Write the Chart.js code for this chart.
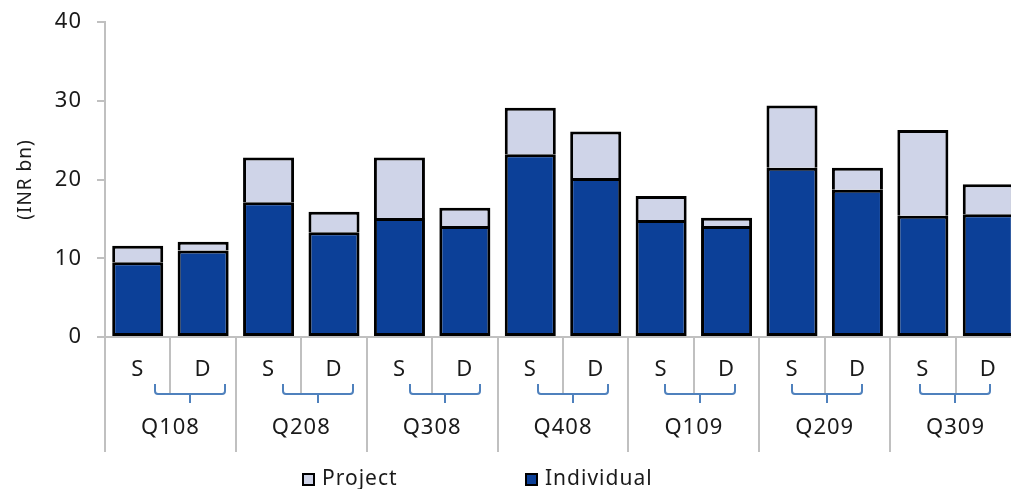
<!DOCTYPE html>
<html>
<head>
<meta charset="utf-8">
<script src="https://cdn.jsdelivr.net/npm/chart.js@4.4.0/dist/chart.umd.min.js"></script>
<style>
html, body { margin: 0; padding: 0; background: #fff; overflow: hidden; }
#wrap { width: 1021px; height: 489px; }
</style>
</head>
<body>
<div id="wrap"><canvas id="myChart" width="1021" height="489"></canvas></div>
<script>
var subLabels = ['S', 'D', 'S', 'D', 'S', 'D', 'S', 'D', 'S', 'D', 'S', 'D', 'S', 'D'];
var quarters = ['Q108', 'Q208', 'Q308', 'Q408', 'Q109', 'Q209', 'Q309'];
var individual = [9.5, 11.0, 17.1, 13.3, 15.1, 14.1, 23.2, 20.2, 14.85, 14.1, 21.5, 18.7, 15.4, 15.6];
var project = [2.1, 1.1, 5.7, 2.6, 7.7, 2.3, 5.9, 5.9, 3.05, 1.05, 7.9, 2.8, 10.9, 3.8];
var yTicks = [0, 10, 20, 30, 40];

Chart.defaults.font.family = "'Noto Sans', sans-serif";
Chart.defaults.font.size = 22;
Chart.defaults.color = '#1a1a1a';

// separators, braces under the S/D pairs, and the legend
var decor = {
	id: 'decor',
	beforeLayout: function (chart) { chart.ctx.letterSpacing = '1px'; },
	beforeDraw: function (chart) { chart.ctx.letterSpacing = '1px'; },
	afterDraw: function (chart) {
		var ctx = chart.ctx, ca = chart.chartArea;
		var w = (ca.right - ca.left) / subLabels.length;
		ctx.save();
		ctx.strokeStyle = '#c0c0c0';
		ctx.lineWidth = 2;
		for (var i = 0; i <= subLabels.length; i++) {
			var px = Math.round(ca.left + i * w);
			ctx.beginPath();
			ctx.moveTo(px, ca.bottom);
			ctx.lineTo(px, i % 2 ? 394 : 452);
			ctx.stroke();
		}
		ctx.strokeStyle = '#4f81bd';
		quarters.forEach(function (q, i) {
			var c = Math.round(ca.left + (2 * i + 1) * w + 20 - 3.5 * i);
			var l = c - 35, r = c + 35, top = 384, mid = 394;
			ctx.beginPath();
			ctx.moveTo(l, top);
			ctx.lineTo(l, mid - 3);
			ctx.quadraticCurveTo(l, mid, l + 3, mid);
			ctx.lineTo(r - 3, mid);
			ctx.quadraticCurveTo(r, mid, r, mid - 3);
			ctx.lineTo(r, top);
			ctx.moveTo(c, mid);
			ctx.lineTo(c, mid + 9);
			ctx.stroke();
		});
		// legend
		var legendX = [302, 525];
		var ds = chart.data.datasets.slice().reverse();
		ctx.font = "21px 'Noto Sans', sans-serif";
		ctx.textBaseline = 'middle';
		ds.forEach(function (d, i) {
			var x = legendX[i];
			ctx.fillStyle = d.backgroundColor;
			ctx.fillRect(x, 473, 13, 13);
			ctx.strokeStyle = '#000';
			ctx.lineWidth = 2;
			ctx.strokeRect(x + 1, 474, 11, 11);
			ctx.fillStyle = '#1a1a1a';
			ctx.fillText(d.label, x + 20, 479);
		});
		ctx.restore();
	}
};

var ctx = document.getElementById('myChart').getContext('2d');
var myChart = new Chart(ctx, {
	type: 'bar',
	data: {
		labels: subLabels,
		datasets: [{
			label: 'Individual',
			data: individual,
			backgroundColor: '#0c4098',
			borderColor: '#000',
			borderWidth: 3,
			borderSkipped: false
		}, {
			label: 'Project',
			data: project,
			backgroundColor: '#cfd4e8',
			borderColor: '#000',
			borderWidth: 3,
			borderSkipped: 'start'
		}]
	},
	options: {
		responsive: false,
		animation: false,
		barPercentage: 0.78,
		categoryPercentage: 1,
		layout: { padding: { top: 22, right: 0, left: 0, bottom: 0 } },
		plugins: {
			legend: { display: false },
			tooltip: { enabled: false }
		},
		scales: {
			x: {
				stacked: true,
				grid: { display: false },
				border: { color: '#c0c0c0', width: 2 },
				ticks: { padding: 12, maxRotation: 0, autoSkip: false },
				afterFit: function (s) { s.height = 70; }
			},
			x2: {
				type: 'category',
				labels: quarters,
				position: 'bottom',
				offset: true,
				grid: { display: false },
				border: { display: false },
				ticks: { padding: 0, maxRotation: 0, autoSkip: false },
				afterFit: function (s) { s.height = 82; }
			},
			y: {
				stacked: true,
				min: 0,
				max: 40,
				afterBuildTicks: function (s) {
					s.ticks = yTicks.map(function (v) { return { value: v }; });
				},
				grid: { drawOnChartArea: false, tickLength: 8, color: '#c0c0c0', lineWidth: 2 },
				border: { color: '#c0c0c0', width: 2 },
				ticks: { padding: 15 },
				title: { display: true, text: '(INR bn)', font: { size: 19 }, padding: { top: 14, bottom: 0 } },
				afterFit: function (s) {
					s.width = 105;
					s.paddingTop = 0;
					s.paddingBottom = 0;
				}
			}
		}
	},
	plugins: [decor]
});
</script>
</body>
</html>
